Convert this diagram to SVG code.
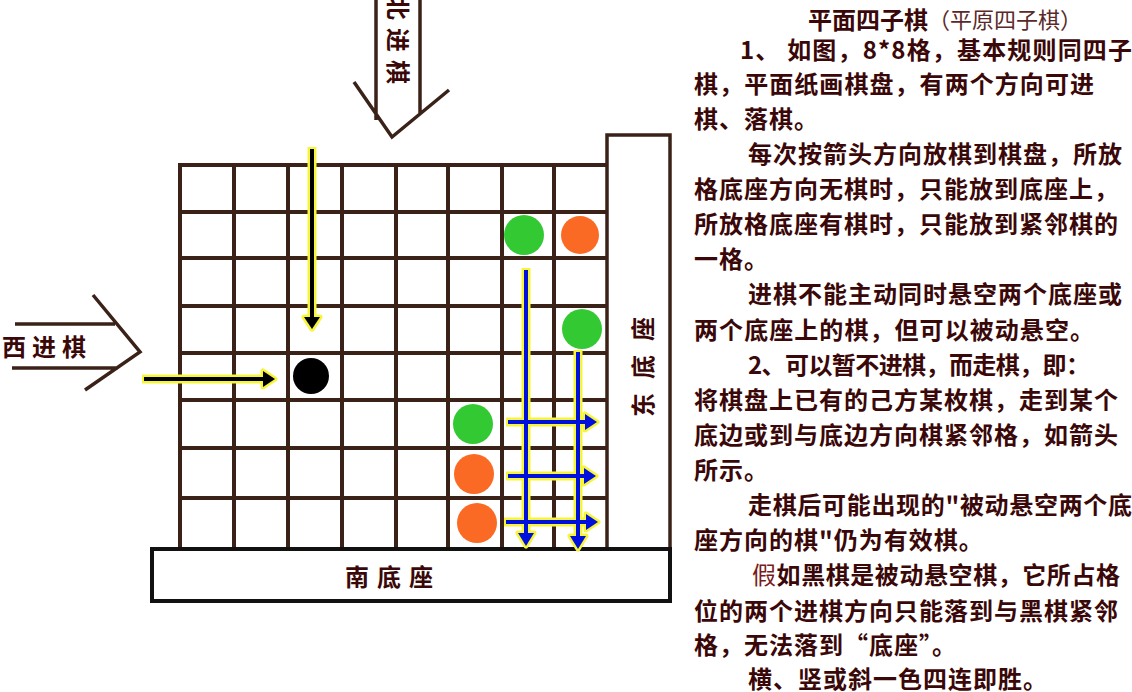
<svg xmlns="http://www.w3.org/2000/svg" width="1132" height="692" viewBox="0 0 1132 692">
<style>
.grid{stroke:#3a2218;stroke-width:4;fill:none;stroke-linecap:square}
.outl{stroke:#3a2218;stroke-width:3.5;fill:none}
.t{font-family:"Noto Sans CJK SC","Noto Sans",sans-serif;font-size:24px;font-weight:700;fill:#3a0808;dominant-baseline:central}
.lbl{font-family:"Noto Sans CJK SC","Noto Sans",sans-serif;font-size:24px;font-weight:700;fill:#3a0808;dominant-baseline:central}
.yl{stroke:#f7f53a;stroke-width:9;fill:none;stroke-linecap:butt}
.yh{fill:#f7f53a;stroke:#f7f53a;stroke-width:5;stroke-linejoin:round}
.bk{stroke:#000;stroke-width:4;fill:none}
.bkh{fill:#000}
.bl{stroke:#0010dc;stroke-width:4;fill:none}
.blh{fill:#0010dc}
</style>
<rect width="1132" height="692" fill="#fff"/>
<g id="board">
<path class="grid" d="M180,165H607M180,212H607M180,258H607M180,306H607M180,353H607M180,400H607M180,448H607M180,498H607M180,165V549M234,165V549M288,165V549M342,165V549M396,165V549M448,165V549M502,165V549M554,165V549"/>
</g>
<g id="east-base">
<rect x="607" y="135" width="63" height="414" fill="#fff" stroke="#3a2218" stroke-width="3.5"/>
<text class="lbl" transform="translate(641,417) rotate(-90)" letter-spacing="14">东底座</text>
</g>
<g id="south-base">
<rect x="152" y="549" width="518" height="52" fill="#fff" stroke="#111" stroke-width="4"/>
<text class="lbl" x="345" y="575" letter-spacing="8" font-size="25">南底座</text>
</g>
<g id="north-entry">
<path class="outl" d="M376,0V120M420,0V113M354,82L392,137L449,90"/>
<text class="lbl" transform="translate(399,-4) rotate(90)" letter-spacing="8" font-size="26">北进棋</text>
</g>
<g id="west-entry">
<path class="outl" d="M15,324H115M12,368H118M93,295L140,352L85,390"/>
<text class="lbl" x="2" y="345" letter-spacing="6">西进棋</text>
</g>
<g id="stones">
<circle cx="311" cy="376" r="18" fill="#000"/>
<circle cx="524" cy="235" r="20" fill="#33c933"/>
<circle cx="580" cy="235" r="19" fill="#fb6a24"/>
<circle cx="582" cy="329" r="20" fill="#33c933"/>
<circle cx="473" cy="424" r="20" fill="#33c933"/>
<circle cx="474" cy="474" r="20" fill="#fb6a24"/>
<circle cx="477" cy="523" r="20" fill="#fb6a24"/>
</g>
<g id="connectors">
<path class="yl" d="M312,147V318"/>
<polygon class="yh" points="304,317 320,317 312,329"/>
<path class="bk" d="M312,149V318"/>
<polygon class="bkh" points="304,317 320,317 312,329"/>
<path class="yl" d="M142,379H265"/>
<polygon class="yh" points="263,371 263,387 275,379"/>
<path class="bk" d="M144,379H265"/>
<polygon class="bkh" points="263,371 263,387 275,379"/>
<path class="yl" d="M526,268V535M578,350V538M506,422H587M506,476H586M504,522H588"/>
<polygon class="yh" points="518,533 534,533 526,546"/>
<polygon class="yh" points="570,536 586,536 578,549"/>
<polygon class="yh" points="585,414 585,430 597,422"/>
<polygon class="yh" points="584,468 584,484 596,476"/>
<polygon class="yh" points="586,514 586,530 598,522"/>
<path class="bl" d="M526,270V535M578,352V538M508,422H587M508,476H586M506,522H588"/>
<polygon class="blh" points="518,533 534,533 526,546"/>
<polygon class="blh" points="570,536 586,536 578,549"/>
<polygon class="blh" points="585,414 585,430 597,422"/>
<polygon class="blh" points="584,468 584,484 596,476"/>
<polygon class="blh" points="586,514 586,530 598,522"/>
</g>
<g id="rules-text">
<text class="t" x="808" y="18"><tspan>平面四子棋</tspan><tspan font-weight="400" fill="#5a2a2a" font-size="22">（平原四子棋）</tspan></text>
<text class="t" x="740" y="48" textLength="392" lengthAdjust="spacing">1、 如图，8*8格，基本规则同四子</text>
<text class="t" x="694" y="82" textLength="400" lengthAdjust="spacing">棋，平面纸画棋盘，有两个方向可进</text>
<text class="t" x="694" y="117" letter-spacing="1">棋、落棋。</text>
<text class="t" x="748" y="152" textLength="374" lengthAdjust="spacing">每次按箭头方向放棋到棋盘，所放</text>
<text class="t" x="694" y="187" textLength="424" lengthAdjust="spacing">格底座方向无棋时，只能放到底座上，</text>
<text class="t" x="694" y="222" textLength="424" lengthAdjust="spacing">所放格底座有棋时，只能放到紧邻棋的</text>
<text class="t" x="694" y="257" letter-spacing="1">一格。</text>
<text class="t" x="748" y="292" textLength="374" lengthAdjust="spacing">进棋不能主动同时悬空两个底座或</text>
<text class="t" x="694" y="328" textLength="400" lengthAdjust="spacing">两个底座上的棋，但可以被动悬空。</text>
<text class="t" x="748" y="363" textLength="342" lengthAdjust="spacing">2、可以暂不进棋，而走棋，即：</text>
<text class="t" x="694" y="398" textLength="424" lengthAdjust="spacing">将棋盘上已有的己方某枚棋，走到某个</text>
<text class="t" x="694" y="433" textLength="424" lengthAdjust="spacing">底边或到与底边方向棋紧邻格，如箭头</text>
<text class="t" x="694" y="468" letter-spacing="1">所示。</text>
<text class="t" x="748" y="503" textLength="384" lengthAdjust="spacing">走棋后可能出现的"被动悬空两个底</text>
<text class="t" x="694" y="538" letter-spacing="1">座方向的棋"仍为有效棋。</text>
<text class="t" x="752" y="573" textLength="368" lengthAdjust="spacing"><tspan font-weight="400" fill="#7a1a1a">假</tspan>如黑棋是被动悬空棋，它所占格</text>
<text class="t" x="694" y="609" textLength="424" lengthAdjust="spacing">位的两个进棋方向只能落到与黑棋紧邻</text>
<text class="t" x="694" y="643" letter-spacing="1">格，无法落到“底座”。</text>
<text class="t" x="748" y="677" letter-spacing="1">横、竖或斜一色四连即胜。</text>
</g>
</svg>
